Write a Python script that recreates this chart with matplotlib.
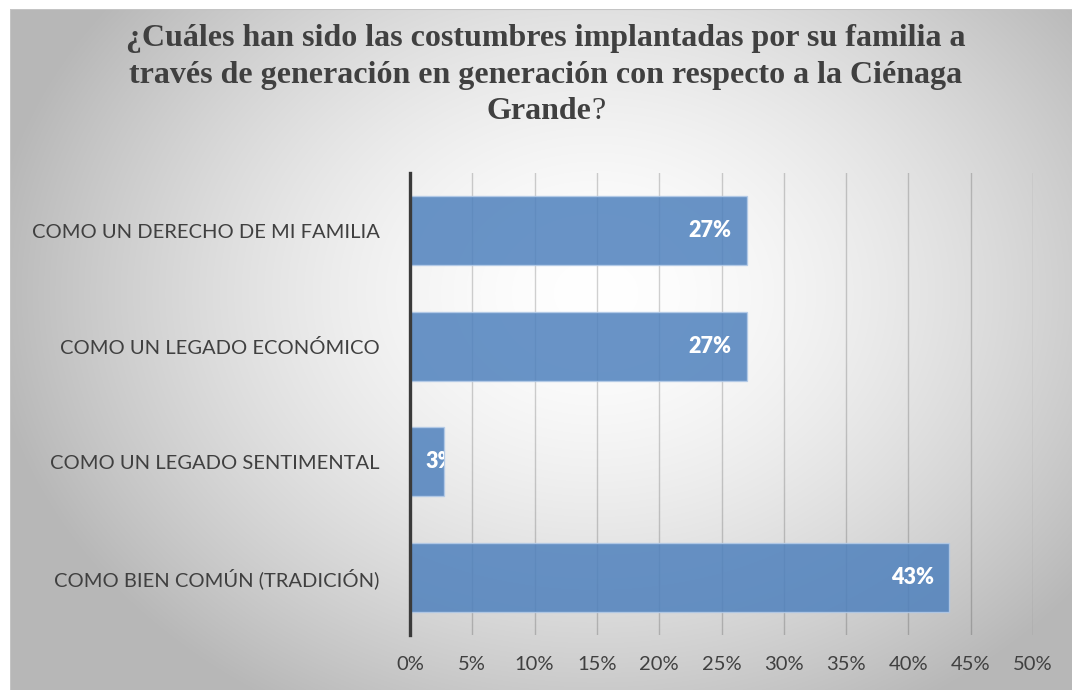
import numpy as np
import matplotlib.pyplot as plt
from matplotlib.patches import Rectangle
from matplotlib.transforms import Bbox, TransformedBbox

# Datos (n = 37 encuestados)
categorias = ["COMO UN DERECHO DE MI FAMILIA",
              "COMO UN LEGADO ECONÓMICO",
              "COMO UN LEGADO SENTIMENTAL",
              "COMO BIEN COMÚN (TRADICIÓN)"]
porcentajes = [27.03, 27.03, 2.70, 43.24]
etiquetas = ["27%", "27%", "3%", "43%"]
ticks_x = [0, 5, 10, 15, 20, 25, 30, 35, 40, 45, 50]

W, H = 1072, 690
fig = plt.figure(figsize=(W / 100, H / 100), dpi=100)
fig.patch.set_facecolor("white")

# Fondo con degradado radial (el área del gráfico sobrepasa la imagen a la derecha y abajo)
bg = fig.add_axes([10 / W, -4 / H, 1.0, 1 - 5 / H])
yy, xx = np.mgrid[0:700, 0:1080]
cx, cy = 590, 290
d = np.sqrt(((xx - cx) / 600.0) ** 2 + ((yy - cy) / 480.0) ** 2)
d = np.clip(d, 0, 1.2)
gris = 1.0 - 0.27 * d ** 1.6
gris = np.clip(gris, 0.72, 1.0)
bg.imshow(np.dstack([gris, gris, gris]), aspect="auto", extent=[0, 1, 0, 1])
bg.set_xlim(0, 1)
bg.set_ylim(0, 1)
bg.axis("off")
bg.add_patch(Rectangle((0, 0), 1, 1, transform=bg.transAxes, fill=False,
                       edgecolor="#c4c4c4", linewidth=1.5))

# Título
fuente_titulo = ["Liberation Serif", "DejaVu Serif"]
xc = 546 / W
fig.text(xc, 1 - 46 / H, "¿Cuáles han sido las costumbres implantadas por su familia a",
         ha="center", va="baseline", fontsize=23, fontweight="bold",
         color="#404040", family=fuente_titulo)
fig.text(xc, 1 - 83 / H, "través de generación en generación con respecto a la Ciénaga",
         ha="center", va="baseline", fontsize=23, fontweight="bold",
         color="#404040", family=fuente_titulo)
t3 = fig.text(xc - 7 / W, 1 - 119 / H, "Grande", ha="center", va="baseline",
              fontsize=23, fontweight="bold", color="#404040", family=fuente_titulo)
plt.annotate("?", xy=(1, 0), xycoords=t3, ha="left", va="bottom",
             fontsize=23, color="#404040", family=fuente_titulo,
             annotation_clip=False)

# Gráfico de barras
ax = fig.add_axes([410 / W, 1 - 635 / H, (1033 - 410) / W, (635 - 173) / H])
ax.patch.set_alpha(0)
pos = np.arange(len(categorias))
barras = ax.barh(pos, porcentajes, height=0.6, color="#4F81BD", alpha=0.85,
                 edgecolor="#b4cbe8", linewidth=1, zorder=3)
ax.set_ylim(3.5, -0.5)
ax.set_xlim(0, 50)
ax.set_xticks(ticks_x)
ax.set_xticklabels([f"{v}%" for v in ticks_x])
ax.set_yticks(pos)
ax.set_yticklabels(categorias)
ax.tick_params(axis="both", length=0, labelsize=14.5, labelcolor="#404040")
ax.tick_params(axis="y", pad=22)
ax.tick_params(axis="x", pad=15)
for lab in ax.get_xticklabels() + ax.get_yticklabels():
    lab.set_family(["Lato", "DejaVu Sans"])

ax.grid(axis="x", color="black", alpha=0.18, linewidth=1, zorder=0)
ax.set_axisbelow(True)
for lado in ["top", "right", "bottom"]:
    ax.spines[lado].set_visible(False)
ax.spines["left"].set_color("#3a3a3a")
ax.spines["left"].set_linewidth(2.4)
ax.spines["left"].set_zorder(5)

# Etiquetas de datos (blancas; la parte fuera de la barra queda recortada)
for b, val, txt in zip(barras, porcentajes, etiquetas):
    yc = b.get_y() + b.get_height() / 2
    if val > 10:
        ax.annotate(txt, xy=(val, yc), xytext=(-15, 0), textcoords="offset pixels",
                    ha="right", va="center", color="white", fontsize=15.5,
                    fontweight="heavy", family=["Lato", "DejaVu Sans"], zorder=6)
    else:
        et = ax.annotate(txt, xy=(0, yc), xytext=(15, 0), textcoords="offset pixels",
                         ha="left", va="center", color="white", fontsize=15.5,
                         fontweight="heavy", family=["Lato", "DejaVu Sans"], zorder=6)
        caja = Bbox([[0, b.get_y()], [val, b.get_y() + b.get_height()]])
        et.set_clip_box(TransformedBbox(caja, ax.transData))
        et.set_clip_on(True)

plt.savefig("out.png", dpi=100)
